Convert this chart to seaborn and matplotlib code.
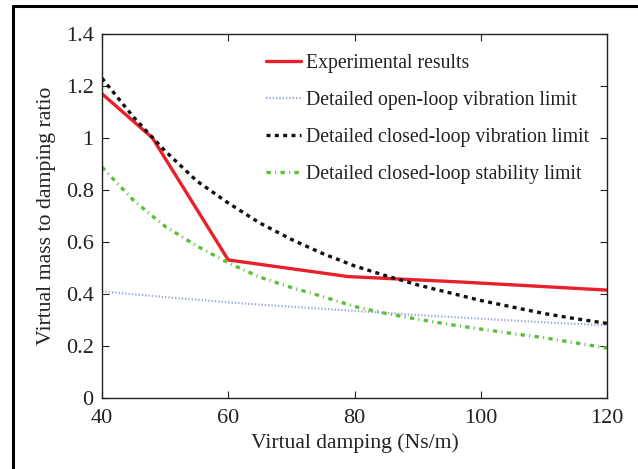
import numpy as np
import pandas as pd
import matplotlib
matplotlib.use("Agg")
import matplotlib.pyplot as plt
from matplotlib.lines import Line2D
import seaborn as sns

# ---- data ----
exp_x = [40, 48, 60, 79, 97, 120]
exp_y = [1.17, 1.0, 0.531, 0.467, 0.446, 0.415]

curve_x = [40, 45, 50, 55, 60, 65, 70, 75, 80, 85, 90, 95, 100, 105, 110, 115, 120]
open_vib = [0.410, 0.399, 0.388, 0.378, 0.368, 0.359, 0.351, 0.343, 0.335, 0.327, 0.319, 0.312, 0.305, 0.298, 0.291, 0.285, 0.280]
closed_vib = [1.23, 1.08, 0.95, 0.835, 0.75, 0.673, 0.61, 0.555, 0.508, 0.470, 0.435, 0.405, 0.375, 0.350, 0.325, 0.305, 0.287]
closed_stab = [0.888, 0.76, 0.66, 0.585, 0.52, 0.465, 0.425, 0.39, 0.352, 0.325, 0.303, 0.283, 0.265, 0.248, 0.232, 0.212, 0.192]

labels = ["Experimental results",
          "Detailed open-loop vibration limit",
          "Detailed closed-loop vibration limit",
          "Detailed closed-loop stability limit"]
xticks = [40, 60, 80, 100, 120]
yticks = [0, 0.2, 0.4, 0.6, 0.8, 1.0, 1.2, 1.4]
ytick_labels = ["0", "0.2", "0.4", "0.6", "0.8", "1", "1.2", "1.4"]

sns.set_style("ticks")
plt.rcParams['font.family'] = ['Liberation Serif', 'DejaVu Serif']
plt.rcParams['xtick.direction'] = 'in'
plt.rcParams['ytick.direction'] = 'in'

W, H = 638, 469
fig = plt.figure(figsize=(W / 100, H / 100), dpi=100)
ax = fig.add_axes([102 / W, 1 - 398 / H, (607 - 102) / W, (398 - 34) / H])

sns.lineplot(x=exp_x, y=exp_y, ax=ax, color="#e8202a", lw=2.4, label=labels[0])
sns.lineplot(x=curve_x, y=open_vib, ax=ax, color="#9aa8dc", lw=1.6,
             linestyle=(0, (0.6, 0.9)), label=labels[1])
sns.lineplot(x=curve_x, y=closed_vib, ax=ax, color="#111111", lw=2.4,
             linestyle=(0, (1.2, 1.3)), label=labels[2])
sns.lineplot(x=curve_x, y=closed_stab, ax=ax, color="#5cbf3c", lw=2.4,
             linestyle=(0, (1.3, 1.3, 0.3, 1.3)), label=labels[3])

ax.set_xlim(40, 120)
ax.set_ylim(0, 1.4)
ax.set_xticks(xticks)
ax.set_xticklabels([str(v) for v in xticks])
ax.set_yticks(yticks)
ax.set_yticklabels(ytick_labels)
ax.tick_params(axis='both', which='both', labelsize=16, length=5, width=0.8,
               top=True, right=True, colors='#222222')
ax.tick_params(axis='x', pad=8)
ax.tick_params(axis='y', pad=6)
for s in ax.spines.values():
    s.set_visible(True)
    s.set_linewidth(1.0)
    s.set_color('#222222')

ax.set_xlabel("Virtual damping (Ns/m)", fontsize=15.6, color='#222222', labelpad=4)
ax.set_ylabel("Virtual mass to damping ratio", fontsize=15.7, color='#222222', labelpad=7)

leg = ax.legend(loc='upper left', bbox_to_anchor=(0.31, 0.968), frameon=False,
                fontsize=14.2, handlelength=1.75, handletextpad=0.27,
                labelspacing=0.92, borderaxespad=0)
for t in leg.get_texts():
    t.set_color('#222222')

# outer frame (top and left only, rest cropped)
fig.add_artist(Line2D([13 / W, 1.0], [1 - 6 / H, 1 - 6 / H], color='black', lw=2.2,
                      transform=fig.transFigure))
fig.add_artist(Line2D([13 / W, 13 / W], [1 - 6 / H, 0.0], color='black', lw=2.2,
                      transform=fig.transFigure))

fig.savefig("out.png", dpi=100)
